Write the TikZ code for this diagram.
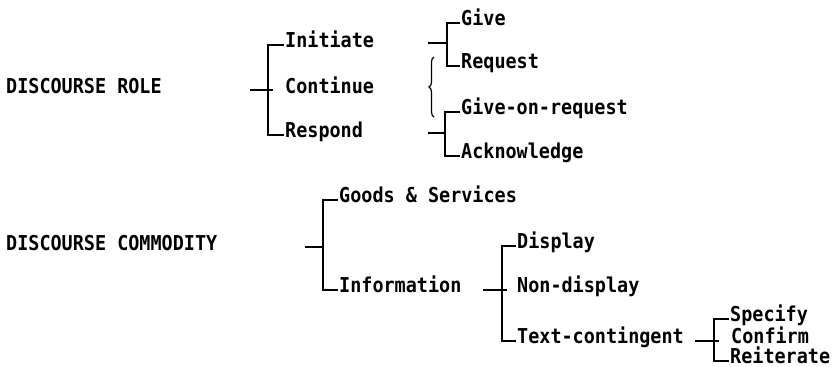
\documentclass[tikz,border=0pt]{standalone}
\usepackage{fontspec}
\setmonofont[FakeStretch=0.9]{DejaVu Sans Mono}
\usetikzlibrary{decorations.pathreplacing}

\begin{document}
\begin{tikzpicture}[x=1pt,y=-1pt,
  lbl/.style={anchor=base west, inner sep=0pt,
    font=\ttfamily\bfseries\fontsize{20.5}{22}\selectfont},
  brk/.style={line width=2pt, line join=miter},
  curly/.style={decorate, decoration={brace, amplitude=5pt}, line width=1.2pt},
  tick/.style={shift={(-1,-2)}}
]
\useasboundingbox (0,0) rectangle (836,367);

% --- discourse role ---
\node[lbl] (role) at (6,93) {DISCOURSE ROLE};
\node[lbl] (ini) at (285,47) {Initiate};
\node[lbl] (con) at (285,93) {Continue};
\node[lbl] (res) at (285,137) {Respond};
\node[lbl] (give) at (461,25) {Give};
\node[lbl] (req) at (461,68) {Request};
\node[lbl] (gor) at (461,114) {Give-on-request};
\node[lbl] (ack) at (461,158) {Acknowledge};

% --- discourse commodity ---
\node[lbl] (comm) at (6,250) {DISCOURSE COMMODITY};
\node[lbl] (gs) at (339,202) {Goods \& Services};
\node[lbl] (inf) at (339,292) {Information};
\node[lbl] (disp) at (517,248) {Display};
\node[lbl] (nond) at (517,292) {Non-display};
\node[lbl] (txt) at (517,343) {Text-contingent};
\node[lbl] (spec) at (730,321) {Specify};
\node[lbl] (conf) at (731,343) {Confirm};
\node[lbl] (reit) at (730,363) {Reiterate};

% bracket junctions, stub starts and stub ends
\coordinate (ja) at (268,90);  \coordinate (sa) at (250,90);  \coordinate (ea) at (273,90);
\coordinate (jb) at (447,43);  \coordinate (sb) at (428,43);
\coordinate (jc) at (445,133); \coordinate (sc) at (428,133);
\coordinate (jd) at (323,247); \coordinate (sd) at (305,247);
\coordinate (je) at (502,290); \coordinate (se) at (483,290); \coordinate (ee) at (507,290);
\coordinate (jf) at (714,341); \coordinate (sf) at (695,341); \coordinate (ef) at (719,341);

% Initiate / Continue / Respond
\draw[brk] ([tick]ini.base west) -| (ja) |- ([tick]res.base west);
\draw[brk] (sa) -- (ea);
% Give / Request
\draw[brk] ([tick]give.base west) -| (jb) |- ([tick]req.base west);
\draw[brk] (sb) -- (jb);
% Give-on-request / Acknowledge
\draw[brk] ([tick]gor.base west) -| (jc) |- ([tick]ack.base west);
\draw[brk] (sc) -- (jc);
% Goods & Services / Information
\draw[brk] ([tick]gs.base west) -| (jd) |- ([tick]inf.base west);
\draw[brk] (sd) -- (jd);
% Display / Non-display / Text-contingent
\draw[brk] ([tick]disp.base west) -| (je) |- ([tick]txt.base west);
\draw[brk] (se) -- (ee);
% Specify / Confirm / Reiterate
\draw[brk] ([tick]spec.base west) -| (jf) |- ([tick]reit.base west);
\draw[brk] (sf) -- (ef);

% brace joining the two groups of moves
\coordinate (brb) at (434,117);
\coordinate (brt) at (434,57);
\draw[curly] (brb) -- (brt);
\end{tikzpicture}
\end{document}
